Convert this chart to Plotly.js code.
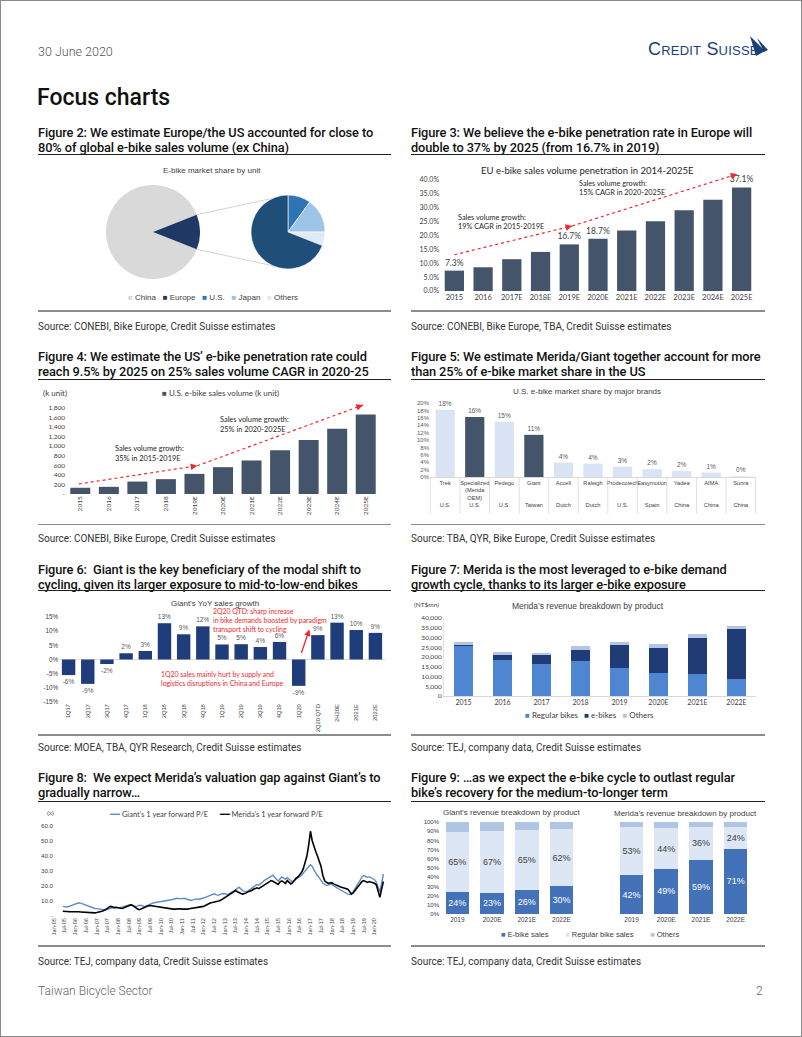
<!DOCTYPE html>
<html><head><meta charset="utf-8">
<script src="https://cdn.plot.ly/plotly-3.0.1.min.js"></script>
<style>
html,body{margin:0;padding:0;background:#fff;}
#page{position:relative;width:802px;height:1037px;overflow:hidden;font-family:Roboto,'Liberation Sans',Arial,sans-serif;background:#fff;}
#frame{position:absolute;left:0;top:0;width:802px;height:1037px;box-sizing:border-box;border:1px solid #8a8a8a;pointer-events:none;z-index:10;}
.t{position:absolute;white-space:nowrap;}
.ft{font-weight:500;font-size:12.8px;color:#111;line-height:15px;letter-spacing:-0.1px;}
.src{font-size:10px;color:#333;line-height:12px;font-weight:400;}
.ul{position:absolute;height:1px;background:#222;}
.rule{position:absolute;height:1.6px;background:#8c8c8c;}
.chart{position:absolute;}
.logo{font-family:'Liberation Sans Narrow','Liberation Sans',Arial,sans-serif;font-variant:small-caps;font-size:18px;color:#1c3f7a;letter-spacing:0.2px;}
</style></head>
<body><div id="page">
<div id="frame"></div>
<div class="t" style="left:38px;top:44px;font-size:12.5px;color:#555;font-weight:300">30 June 2020</div>
<div class="t logo" style="left:648px;top:39px;">Credit Suisse</div>
<svg style="position:absolute;left:748px;top:35px" width="22" height="24"><polygon points="2,1 17,16 8,21" fill="#1c3f7a"/><polygon points="9,3 20,15 16,17" fill="#1c3f7a"/></svg>
<div class="t" style="left:37px;top:84px;font-size:23px;font-weight:500;color:#111">Focus charts</div>

<div class="t ft" style="left:38px;top:125px">Figure 2: We estimate Europe/the US accounted for close to<br>80% of global e-bike sales volume (ex China)</div>
<div class="t ft" style="left:411px;top:125px">Figure 3: We believe the e-bike penetration rate in Europe will<br>double to 37% by 2025 (from 16.7% in 2019)</div>
<div class="ul" style="left:38px;top:154px;width:353px"></div>
<div class="ul" style="left:411px;top:154px;width:354px"></div>
<div class="rule" style="left:38px;top:310px;width:353px"></div>
<div class="rule" style="left:411px;top:310px;width:354px"></div>
<div class="t src" style="left:38px;top:321px">Source: CONEBI, Bike Europe, Credit Suisse estimates</div>
<div class="t src" style="left:411px;top:321px">Source: CONEBI, Bike Europe, TBA, Credit Suisse estimates</div>

<div class="t ft" style="left:38px;top:348.5px">Figure 4: We estimate the US’ e-bike penetration rate could<br>reach 9.5% by 2025 on 25% sales volume CAGR in 2020-25</div>
<div class="t ft" style="left:411px;top:348.5px">Figure 5: We estimate Merida/Giant together account for more<br>than 25% of e-bike market share in the US</div>
<div class="ul" style="left:38px;top:379px;width:353px"></div>
<div class="ul" style="left:411px;top:379px;width:354px"></div>
<div class="rule" style="left:38px;top:523.5px;width:353px"></div>
<div class="rule" style="left:411px;top:523.5px;width:354px"></div>
<div class="t src" style="left:38px;top:533px">Source: CONEBI, Bike Europe, Credit Suisse estimates</div>
<div class="t src" style="left:411px;top:533px">Source: TBA, QYR, Bike Europe, Credit Suisse estimates</div>

<div class="t ft" style="left:38px;top:561.5px">Figure 6:&nbsp; Giant is the key beneficiary of the modal shift to<br>cycling, given its larger exposure to mid-to-low-end bikes</div>
<div class="t ft" style="left:411px;top:561.5px">Figure 7: Merida is the most leveraged to e-bike demand<br>growth cycle, thanks to its larger e-bike exposure</div>
<div class="ul" style="left:38px;top:590px;width:353px"></div>
<div class="ul" style="left:411px;top:590px;width:354px"></div>
<div class="rule" style="left:38px;top:734px;width:353px"></div>
<div class="rule" style="left:411px;top:734px;width:354px"></div>
<div class="t src" style="left:38px;top:741.5px">Source: MOEA, TBA, QYR Research, Credit Suisse estimates</div>
<div class="t src" style="left:411px;top:741.5px">Source: TEJ, company data, Credit Suisse estimates</div>

<div class="t ft" style="left:38px;top:770px">Figure 8:&nbsp; We expect Merida’s valuation gap against Giant’s to<br>gradually narrow…</div>
<div class="t ft" style="left:411px;top:770px">Figure 9: …as we expect the e-bike cycle to outlast regular<br>bike’s recovery for the medium-to-longer term</div>
<div class="ul" style="left:38px;top:800.5px;width:353px"></div>
<div class="ul" style="left:411px;top:800.5px;width:354px"></div>
<div class="rule" style="left:38px;top:945px;width:353px"></div>
<div class="rule" style="left:411px;top:945px;width:354px"></div>
<div class="t src" style="left:38px;top:955.5px">Source: TEJ, company data, Credit Suisse estimates</div>
<div class="t src" style="left:411px;top:955.5px">Source: TEJ, company data, Credit Suisse estimates</div>

<div class="t" style="left:38px;top:984px;font-size:12px;color:#666;font-weight:300">Taiwan Bicycle Sector</div>
<div class="t" style="left:756px;top:984px;font-size:12px;color:#666;font-weight:300">2</div>
</div>
<script>
// ---------------- DATA ----------------
// Figure 2
const chinaShare = 88;
const exChinaLabels = ['U.S.', 'Japan', 'Others', 'Europe'];
const exChinaShares = [10, 15, 6, 69];
// Figure 3
const euYears = ['2015','2016','2017E','2018E','2019E','2020E','2021E','2022E','2023E','2024E','2025E'];
const euPenetration = [7.3, 8.5, 11.4, 14.0, 16.7, 18.7, 21.7, 25.0, 28.9, 32.7, 37.1];
const euLabelledYears = ['2015','2019E','2020E','2025E'];
// Figure 4
const usYears = ['2015','2016','2017','2018','2019E','2020E','2021E','2022E','2023E','2024E','2025E'];
const usEbikeVolume = [130, 150, 260, 310, 420, 560, 700, 915, 1130, 1360, 1660];
// Figure 5
const usBrandLabels = ['Trek','Specialized<br>(Merida<br>OEM)','Pedego','Giant','Accell','Raleigh','Prodecotech','Easymotion','Yadea','AIMA','Sunra'];
const usBrandCountry = ['U.S.','U.S.','U.S.','Taiwan','Dutch','Dutch','U.S.','Spain','China','China','China'];
const usBrandShare = [18.2, 16.2, 14.9, 11.4, 3.9, 3.6, 2.8, 2.1, 1.6, 1.2, 0.2];
const usHighlighted = ['Specialized<br>(Merida<br>OEM)', 'Giant'];
// Figure 6
const giantQuarters = ['1Q17','2Q17','3Q17','4Q17','1Q18','2Q18','3Q18','4Q18','1Q19','2Q19','3Q19','4Q19','1Q20','2Q20 QTD','2H20E','2021E','2022E'];
const giantYoY = [-5.5, -8.6, -1.6, 2.2, 3.0, 12.8, 8.9, 11.7, 5.3, 5.4, 4.4, 6.2, -9.3, 8.6, 13.0, 10.4, 9.4];
// Figure 7
const meridaYears = ['2015','2016','2017','2018','2019','2020E','2021E','2022E'];
const meridaRegular = [25500, 18300, 16600, 17800, 14600, 11700, 11500, 8700];
const meridaEbike = [900, 2600, 4300, 6000, 11500, 13000, 18500, 25600];
const meridaOthers = [1400, 1500, 1200, 1800, 1500, 1800, 1600, 1800];
// Figure 8 (monthly, Jun-2005 to Jun-2020)
const peStart = [2005, 6];
const giantPE = [
 6.4, 6.1, 6.0, 6.3, 6.8, 7.2, 7.6,
 8.0, 8.4, 8.8, 8.6, 8.1, 7.6, 7.0, 6.5, 6.0, 5.6, 5.3, 5.0,
 4.9, 4.7, 4.5, 4.3, 4.1, 4.0, 4.4, 4.8, 5.2, 5.6, 5.4, 5.2,
 5.4, 5.6, 5.8, 6.2, 6.6, 6.9, 7.2, 7.4, 7.0, 6.5, 6.2, 6.8,
 7.2, 7.0, 6.6, 6.2, 6.8, 7.4, 8.0, 8.4, 8.8, 9.0, 9.2, 9.0,
 9.2, 9.6, 10.0, 10.2, 10.0, 10.4, 10.8, 11.2, 11.6, 11.8, 11.6, 11.4,
 11.6, 11.8, 11.5, 11.0, 10.6, 10.4, 10.8, 11.2, 11.4, 11.0, 11.2, 11.6,
 12.0, 12.4, 12.8, 13.2, 13.8, 14.4, 14.8, 14.2, 13.8, 14.2, 14.6, 15.0,
 14.8, 14.4, 14.6, 15.2, 15.8, 16.6, 17.4, 18.4, 19.2, 18.0, 16.8, 16.4,
 16.2, 16.8, 17.6, 18.6, 19.6, 20.4, 21.0, 20.6, 21.4, 22.4, 23.6, 24.4,
 25.0, 25.8, 26.8, 27.2, 25.8, 24.6, 23.2, 24.8, 26.0, 25.2, 24.6, 25.6,
 24.8, 23.6, 22.8, 23.8, 24.6, 25.2, 26.2, 27.0, 28.6, 30.2, 31.6, 33.0,
 34.2, 33.0, 30.8, 28.6, 27.0, 25.4, 23.4, 22.0, 21.0, 20.4, 20.6, 21.4,
 21.0, 20.4, 19.6, 18.8, 18.0, 17.2, 16.4, 15.6, 15.0, 14.6, 14.4, 15.0,
 16.2, 18.0, 20.0, 22.0, 24.0, 26.0, 27.0, 26.4, 25.8, 26.2, 25.6, 25.0,
 24.2, 22.6, 19.0, 16.0, 22.0, 28.0];
const meridaPE = [
 3.2, 3.0, 3.0, 2.9, 2.8, 2.8, 2.9,
 3.0, 2.9, 2.8, 2.7, 2.6, 2.5, 2.4, 2.2, 2.1, 2.0, 2.0, 2.1,
 2.3, 2.5, 2.8, 3.2, 3.6, 4.2, 5.0, 6.0, 6.4, 6.0, 5.6, 5.8,
 5.6, 5.2, 5.0, 5.4, 5.8, 6.4, 7.0, 7.4, 7.2, 6.2, 5.2, 4.6,
 4.2, 4.8, 5.2, 5.8, 6.4, 6.8, 7.0, 6.8, 6.6, 6.2, 6.0, 5.8,
 5.6, 5.4, 5.2, 5.0, 4.8, 4.8, 4.7, 4.6, 4.6, 4.8, 5.0, 4.8,
 4.6, 4.5, 4.5, 4.6, 4.8, 5.0, 5.2, 5.4, 5.6, 5.8, 5.6, 5.8,
 6.4, 7.0, 7.6, 8.4, 8.8, 9.0, 9.2, 9.4, 9.8, 10.2, 10.8, 11.6,
 12.4, 13.0, 14.0, 14.6, 15.2, 16.0, 17.0, 16.2, 15.4, 15.0, 14.6, 14.8,
 15.4, 16.2, 16.4, 17.0, 17.8, 18.4, 18.8, 18.2, 19.0, 20.0, 20.8, 21.6,
 22.4, 23.0, 23.6, 23.2, 22.4, 21.6, 21.0, 22.8, 23.4, 22.6, 21.8, 23.6,
 22.6, 21.4, 22.2, 24.0, 25.2, 26.0, 27.4, 29.0, 31.6, 35.0, 40.0, 47.0,
 56.5, 50.0, 46.0, 43.0, 40.0, 37.0, 33.0, 27.0, 23.5, 22.5, 21.8, 22.0,
 22.2, 21.4, 20.8, 20.2, 19.8, 19.4, 19.0, 18.6, 18.4, 17.8, 16.4, 14.6,
 15.4, 17.0, 18.6, 20.0, 21.6, 23.0, 23.6, 22.8, 22.4, 23.0, 22.6, 22.2,
 21.8, 20.8, 16.6, 12.4, 18.0, 23.0];
// Figure 9
const mixYears = ['2019','2020E','2021E','2022E'];
const giantEbikePct = [24, 23, 26, 30];
const giantRegularPct = [65, 67, 65, 62];
const giantOthersPct = [11, 10, 9, 8];
const meridaEbikePct = [42, 49, 59, 71];
const meridaRegularPct = [53, 44, 36, 24];
const meridaOthersPct = [5, 7, 5, 5];

// ---------------- HELPERS ----------------
const CAL = 'Lato, "Open Sans", sans-serif';
const NAR = '"Liberation Sans Narrow", "Arial Narrow", "Liberation Sans", Arial, sans-serif';
const CFG = {staticPlot: true, displayModeBar: false};
function frame(id, left, top, w, h, m) {
  const el = document.createElement('div');
  el.className = 'chart'; el.id = id;
  Object.assign(el.style, {left: left + 'px', top: top + 'px', width: w + 'px', height: h + 'px'});
  document.getElementById('page').appendChild(el);
  const pw = w - m.l - m.r, ph = h - m.t - m.b;
  return {el, w, h, m, pw, ph,
    px: X => (X - left - m.l) / pw,
    py: Y => 1 - (Y - top - m.t) / ph};
}
function baseLayout(f) {
  return {width: f.w, height: f.h, margin: {l: f.m.l, r: f.m.r, t: f.m.t, b: f.m.b, pad: 0},
    paper_bgcolor: 'rgba(0,0,0,0)', plot_bgcolor: 'rgba(0,0,0,0)', showlegend: false,
    font: {family: CAL, color: '#404040'}};
}
function note(f, X, Y, text, size, family, color, xanchor, align) {
  return {xref: 'paper', yref: 'paper', x: f.px(X), y: f.py(Y), text, showarrow: false,
    xanchor: xanchor || 'center', yanchor: 'middle', align: align || 'left',
    font: {family: family || CAL, size, color: color || '#404040'}};
}
function swatchLegend(names, colors, gap) {
  return names.map((n, i) => `<span style="color:${colors[i]}">■</span> ${n}`).join(gap);
}
function dottedArrow(f, nCats, ySpan, x0, y0, x1, y1, color) {
  const pxX = f.pw / nCats, pxY = f.ph / ySpan;
  const dx = (x1 - x0) * pxX, dy = -(y1 - y0) * pxY, L = Math.hypot(dx, dy);
  return {
    shape: {type: 'line', xref: 'x', yref: 'y', x0, y0, x1, y1, line: {color, width: 1.2, dash: 'dot'}},
    ann: {xref: 'x', yref: 'y', x: x1, y: y1, ax: -dx / L * 8, ay: -dy / L * 8, axref: 'pixel', ayref: 'pixel',
      text: '', showarrow: true, arrowhead: 2, arrowsize: 1.1, arrowwidth: 1.2, arrowcolor: color, standoff: 0}
  };
}
const RED = '#f2272c';

// ---------------- FIGURE 2 ----------------
(function () {
  const f = frame('f2', 30, 158, 360, 152, {l: 0, r: 0, t: 0, b: 0});
  const bigC = [153, 232], bigR = 47, smC = [288, 232], smR = 37;
  const restShare = 100 - chinaShare;
  const wedgeDeg = restShare / 100 * 360;
  const dom = (c, r) => ({x: [f.px(c[0] - r), f.px(c[0] + r)], y: [f.py(c[1] + r), f.py(c[1] - r)]});
  const colorOf = {'U.S.': '#2e75b6', 'Japan': '#9dc3e6', 'Others': '#deebf7', 'Europe': '#1f4e79'};
  const big = {type: 'pie', labels: ['China', 'Europe'], values: [chinaShare, restShare], sort: false,
    direction: 'clockwise', rotation: 90 + wedgeDeg / 2, textinfo: 'none', hoverinfo: 'none',
    marker: {colors: ['#d9d9d9', '#1f3864'], line: {width: 0}}, domain: dom(bigC, bigR)};
  const small = {type: 'pie', labels: exChinaLabels, values: exChinaShares, sort: false,
    direction: 'clockwise', rotation: 0, textinfo: 'none', hoverinfo: 'none',
    marker: {colors: exChinaLabels.map(l => colorOf[l]), line: {width: 0.6, color: '#ffffff'}}, domain: dom(smC, smR)};
  const a0 = (90 - wedgeDeg / 2) * Math.PI / 180, a1 = (90 + wedgeDeg / 2) * Math.PI / 180;
  const p0 = [bigC[0] + bigR * Math.sin(a0), bigC[1] - bigR * Math.cos(a0)];
  const p1 = [bigC[0] + bigR * Math.sin(a1), bigC[1] - bigR * Math.cos(a1)];
  const L = baseLayout(f);
  L.shapes = [
    {type: 'line', xref: 'paper', yref: 'paper', layer: 'below', x0: f.px(p0[0]), y0: f.py(p0[1]), x1: f.px(smC[0]), y1: f.py(smC[1] - smR), line: {color: '#c8c8c8', width: 0.8}},
    {type: 'line', xref: 'paper', yref: 'paper', layer: 'below', x0: f.px(p1[0]), y0: f.py(p1[1]), x1: f.px(smC[0]), y1: f.py(smC[1] + smR), line: {color: '#c8c8c8', width: 0.8}}
  ];
  L.annotations = [
    note(f, 212, 170, 'E-bike market share by unit', 8, NAR, '#404040'),
    note(f, 213, 297.7, swatchLegend(['China', 'Europe', 'U.S.', 'Japan', 'Others'], ['#d9d9d9', '#1f3864', '#2e75b6', '#9dc3e6', '#deebf7'], '&nbsp;&nbsp;&nbsp;'), 8, NAR, '#404040')
  ];
  Plotly.newPlot(f.el, [big, small], L, CFG);
})();

// ---------------- FIGURE 3 ----------------
(function () {
  const f = frame('f3', 405, 160, 370, 150, {l: 35, r: 19, t: 10.9, b: 18.7});
  const yMax = 43;
  const tv = [0, 5, 10, 15, 20, 25, 30, 35, 40];
  const tr = {type: 'bar', x: euYears, y: euPenetration, marker: {color: '#44546a'},
    text: euPenetration.map((v, i) => euLabelledYears.includes(euYears[i]) ? v.toFixed(1) + '%' : ''),
    textposition: 'outside', cliponaxis: false, constraintext: 'none',
    textfont: {family: CAL, size: 8.5, color: '#404040'}, hoverinfo: 'none'};
  const a1 = dottedArrow(f, euYears.length, yMax, 0, 13, 4.1, 23.3, RED);
  const a2 = dottedArrow(f, euYears.length, yMax, 4.1, 23.3, 9.85, 41.9, RED);
  const L = baseLayout(f);
  L.bargap = 0.33;
  L.xaxis = {type: 'category', showgrid: false, zeroline: false, showline: false, ticks: '', tickfont: {family: CAL, size: 7.5, color: '#404040'}};
  L.yaxis = {range: [0, yMax], tickvals: tv, ticktext: tv.map(v => v.toFixed(1) + '%'), showgrid: false, zeroline: false, showline: false, ticks: '', tickfont: {family: CAL, size: 7, color: '#404040'}};
  L.shapes = [a1.shape, a2.shape];
  L.annotations = [
    note(f, 587, 170, 'EU e-bike sales volume penetration in 2014-2025E', 9.5, CAL, '#262626'),
    note(f, 456, 222.5, 'Sales volume growth:<br>19% CAGR in 2015-2019E', 7.3, CAL, '#262626', 'left'),
    note(f, 577, 187.5, 'Sales volume growth:<br>15% CAGR in 2020-2025E', 7.3, CAL, '#262626', 'left'),
    a1.ann, a2.ann
  ];
  Plotly.newPlot(f.el, [tr], L, CFG);
})();

// ---------------- FIGURE 4 ----------------
(function () {
  const f = frame('f4', 30, 385, 365, 135, {l: 35.7, r: 14.7, t: 17.9, b: 25.7});
  const yMax = 1900;
  const tv = [0, 200, 400, 600, 800, 1000, 1200, 1400, 1600, 1800];
  const tr = {type: 'bar', x: usYears, y: usEbikeVolume, marker: {color: '#44546a'}, hoverinfo: 'none'};
  const a1 = dottedArrow(f, usYears.length, yMax, -0.05, 210, 4.1, 590, RED);
  const a2 = dottedArrow(f, usYears.length, yMax, 4.1, 590, 9.9, 1856, RED);
  const L = baseLayout(f);
  L.bargap = 0.3;
  L.xaxis = {type: 'category', showgrid: false, zeroline: false, showline: false, ticks: '', tickangle: -90, tickfont: {family: CAL, size: 6.5, color: '#404040'}};
  L.yaxis = {range: [0, yMax], tickvals: tv, ticktext: tv.map(v => v === 0 ? '-' : v.toLocaleString('en-US')), showgrid: false, zeroline: false, showline: false, ticks: '', tickfont: {family: CAL, size: 6.5, color: '#404040'}};
  L.shapes = [a1.shape, a2.shape];
  L.annotations = [
    note(f, 55, 392.7, '(k unit)', 8, CAL, '#404040'),
    note(f, 160, 392.7, swatchLegend(['U.S. e-bike sales volume (k unit)'], ['#44546a'], ''), 8, CAL, '#404040', 'left'),
    note(f, 113, 453.5, 'Sales volume growth:<br>35% in 2015-2019E', 7.4, CAL, '#262626', 'left'),
    note(f, 218, 424.5, 'Sales volume growth:<br>25% in 2020-2025E', 7.4, CAL, '#262626', 'left'),
    a1.ann, a2.ann
  ];
  Plotly.newPlot(f.el, [tr], L, CFG);
})();

// ---------------- FIGURE 5 ----------------
(function () {
  const f = frame('f5', 405, 385, 370, 140, {l: 25.2, r: 18.5, t: 18.3, b: 47.7});
  const tickText = usBrandLabels.map((b, i) => b + '<br>'.repeat(4 - b.split('<br>').length) + usBrandCountry[i]);
  const tr = {type: 'bar', x: usBrandLabels, y: usBrandShare,
    marker: {color: usBrandLabels.map(b => usHighlighted.includes(b) ? '#44546a' : '#dae3f3')},
    texttemplate: '%{y:.0f}%', textposition: 'outside', cliponaxis: false, constraintext: 'none',
    textfont: {family: NAR, size: 6.5, color: '#595959'}, hoverinfo: 'none'};
  const tv = [0, 2, 4, 6, 8, 10, 12, 14, 16, 18, 20];
  const L = baseLayout(f);
  L.bargap = 0.35;
  L.xaxis = {type: 'category', tickvals: usBrandLabels, ticktext: tickText, tickangle: 0, showgrid: false, zeroline: false, showline: true, linecolor: '#d9d9d9', linewidth: 1, ticks: '', tickfont: {family: NAR, size: 5.7, color: '#404040'}};
  L.yaxis = {range: [0, 20], tickvals: tv, ticktext: tv.map(v => v + '%'), showgrid: false, zeroline: false, showline: false, ticks: '', tickfont: {family: NAR, size: 6, color: '#595959'}};
  L.shapes = [];
  for (let i = 0; i <= usBrandLabels.length; i++) {
    L.shapes.push({type: 'line', xref: 'x', yref: 'paper', x0: i - 0.5, x1: i - 0.5, y0: 0, y1: f.py(514), line: {color: '#d9d9d9', width: 0.8}});
  }
  L.annotations = [note(f, 587, 392, 'U.S. e-bike market share by major brands', 8, NAR, '#404040')];
  Plotly.newPlot(f.el, [tr], L, CFG);
})();

// ---------------- FIGURE 6 ----------------
(function () {
  const f = frame('f6', 30, 597, 365, 138, {l: 29.4, r: 10.4, t: 19.7, b: 32.7});
  const tr = {type: 'bar', x: giantQuarters, y: giantYoY, marker: {color: '#1f3d7a'},
    texttemplate: '%{y:.0f}%', textposition: 'outside', cliponaxis: false, constraintext: 'none',
    textfont: {family: NAR, size: 6.5, color: '#595959'}, hoverinfo: 'none'};
  const tv = [-15, -10, -5, 0, 5, 10, 15];
  const L = baseLayout(f);
  L.bargap = 0.3;
  L.xaxis = {type: 'category', showgrid: false, zeroline: false, showline: false, ticks: '', tickangle: -90, tickfont: {family: NAR, size: 5.8, color: '#404040'}};
  L.yaxis = {range: [-15, 15], tickvals: tv, ticktext: tv.map(v => v + '%'), showgrid: false, zeroline: true, zerolinecolor: '#d9d9d9', zerolinewidth: 1, showline: false, ticks: '', tickfont: {family: NAR, size: 6.3, color: '#404040'}};
  L.annotations = [
    note(f, 215, 602.7, 'Giant’s YoY sales growth', 8, NAR, '#404040'),
    note(f, 211, 619.8, '2Q20 QTD: sharp increase<br>in bike demands boosted by paradigm<br>transport shift to cycling', 6.9, CAL, RED, 'left'),
    note(f, 159, 678.7, '1Q20 sales mainly hurt by supply and<br>logistics disruptions in China and Europe', 6.9, CAL, RED, 'left'),
    {xref: 'x', yref: 'y', x: 12.56, y: 10.6, ax: -8.6, ay: 25, axref: 'pixel', ayref: 'pixel', text: '', showarrow: true,
      arrowhead: 2, arrowsize: 1, arrowwidth: 1.3, arrowcolor: RED, standoff: 0}
  ];
  Plotly.newPlot(f.el, [tr], L, CFG);
})();

// ---------------- FIGURE 7 ----------------
(function () {
  const f = frame('f7', 405, 598, 370, 125, {l: 38.8, r: 18.8, t: 19.7, b: 27.3});
  const names = ['Regular bikes', 'e-bikes', 'Others'];
  const colors = ['#4f86d2', '#1f3c77', '#b4c4e4'];
  const series = [meridaRegular, meridaEbike, meridaOthers];
  const traces = series.map((s, i) => ({type: 'bar', name: names[i], x: meridaYears, y: s, marker: {color: colors[i]}, hoverinfo: 'none'}));
  const tv = [0, 5000, 10000, 15000, 20000, 25000, 30000, 35000, 40000];
  const L = baseLayout(f);
  L.barmode = 'stack';
  L.bargap = 0.5;
  L.xaxis = {type: 'category', showgrid: false, zeroline: false, showline: true, linecolor: '#d9d9d9', linewidth: 1, ticks: '', tickfont: {family: CAL, size: 7, color: '#404040'}};
  L.yaxis = {range: [0, 40000], tickvals: tv, ticktext: tv.map(v => v.toLocaleString('en-US')), showgrid: false, zeroline: false, showline: true, linecolor: '#e3e3e3', linewidth: 1, ticks: '', tickfont: {family: CAL, size: 6.5, color: '#404040'}};
  L.annotations = [
    note(f, 426.7, 604.3, '(NT$mn)', 6.5, CAL, '#404040'),
    note(f, 587.7, 605.7, 'Merida’s revenue breakdown by product', 8.5, NAR, '#404040'),
    note(f, 589, 715, swatchLegend(names, colors, '&nbsp;&nbsp;&nbsp;'), 8, CAL, '#404040')
  ];
  Plotly.newPlot(f.el, traces, L, CFG);
})();

// ---------------- FIGURE 8 ----------------
(function () {
  const f = frame('f8', 30, 808, 365, 140, {l: 24, r: 10.3, t: 17.7, b: 32});
  const dates = giantPE.map((_, i) => {
    const m0 = peStart[1] - 1 + i; const y = peStart[0] + Math.floor(m0 / 12); const m = m0 % 12 + 1;
    return y + '-' + String(m).padStart(2, '0') + '-01';
  });
  const gColor = '#5b8ec9';
  const traces = [
    {type: 'scatter', mode: 'lines', name: 'Giant’s 1 year forward P/E', x: dates, y: giantPE, line: {color: gColor, width: 1.4}, hoverinfo: 'none'},
    {type: 'scatter', mode: 'lines', name: 'Merida’s 1 year forward P/E', x: dates, y: meridaPE, line: {color: '#000000', width: 1.6}, hoverinfo: 'none'}
  ];
  const tv = [0, 10, 20, 30, 40, 50, 60];
  const L = baseLayout(f);
  L.xaxis = {type: 'date', range: ['2005-01-01', '2020-06-28'], tick0: '2005-01-01', dtick: 'M6', tickformat: '%b-%y', tickangle: -90, showgrid: false, zeroline: false, showline: false, ticks: '', tickfont: {family: NAR, size: 5.6, color: '#404040'}};
  L.yaxis = {range: [0, 60], tickvals: tv, ticktext: tv.map(v => v === 0 ? '-' : v.toFixed(1)), showgrid: false, zeroline: false, showline: false, ticks: '', tickfont: {family: NAR, size: 6.2, color: '#404040'}};
  L.annotations = [
    note(f, 50.7, 812.7, '(x)', 6, NAR, '#404040'),
    note(f, 216, 814, `<span style="color:${gColor}">━━</span> Giant’s 1 year forward P/E&nbsp;&nbsp;&nbsp;&nbsp;&nbsp;&nbsp;<span style="color:#000">━━</span> Merida’s 1 year forward P/E`, 7.5, CAL, '#404040')
  ];
  Plotly.newPlot(f.el, traces, L, CFG);
})();

// ---------------- FIGURE 9 ----------------
(function () {
  const f = frame('f9', 405, 805, 370, 140, {l: 35.3, r: 21.8, t: 17.3, b: 31});
  const names = ['E-bike sales', 'Regular bike sales', 'Others'];
  const colors = ['#4372b8', '#dce6f4', '#b0c4e4'];
  const textColors = ['#ffffff', '#404040', '#404040'];
  const mk = (vals, i, xa) => ({type: 'bar', name: names[i], x: mixYears, y: vals, xaxis: xa, yaxis: 'y',
    marker: {color: colors[i]}, text: i < 2 ? vals.map(v => v + '%') : vals.map(() => ''), textposition: i < 2 ? 'inside' : 'none',
    insidetextanchor: 'middle', textangle: 0, constraintext: 'none', textfont: {family: NAR, size: 9, color: textColors[i]}, hoverinfo: 'none'});
  const traces = [
    mk(giantEbikePct, 0, 'x'), mk(giantRegularPct, 1, 'x'), mk(giantOthersPct, 2, 'x'),
    mk(meridaEbikePct, 0, 'x2'), mk(meridaRegularPct, 1, 'x2'), mk(meridaOthersPct, 2, 'x2')
  ];
  const gRight = (579.1 - 440.3) / f.pw, mLeft = (614.4 - 440.3) / f.pw;
  const xa = {type: 'category', showgrid: false, zeroline: false, showline: false, ticks: '', tickfont: {family: NAR, size: 6.5, color: '#404040'}};
  const tv = [0, 10, 20, 30, 40, 50, 60, 70, 80, 90, 100];
  const L = baseLayout(f);
  L.barmode = 'stack';
  L.bargap = 0.32;
  L.uniformtext = {mode: 'show', minsize: 9};
  L.xaxis = Object.assign({domain: [0, gRight], anchor: 'y'}, xa);
  L.xaxis2 = Object.assign({domain: [mLeft, 1], anchor: 'y'}, xa);
  L.yaxis = {range: [0, 100], anchor: 'x', tickvals: tv, ticktext: tv.map(v => v + '%'), showgrid: false, zeroline: false, showline: false, ticks: '', tickfont: {family: NAR, size: 6, color: '#404040'}};
  L.annotations = [
    note(f, 512.5, 812.7, 'Giant’s revenue breakdown by product', 8, NAR, '#404040'),
    note(f, 686, 814, 'Merida’s revenue breakdown by product', 8, NAR, '#404040'),
    note(f, 590, 934.3, swatchLegend(names, colors, '&nbsp;&nbsp;&nbsp;&nbsp;&nbsp;&nbsp;&nbsp;&nbsp;'), 7.5, NAR, '#404040')
  ];
  Plotly.newPlot(f.el, traces, L, CFG);
})();
</script>
</body></html>
